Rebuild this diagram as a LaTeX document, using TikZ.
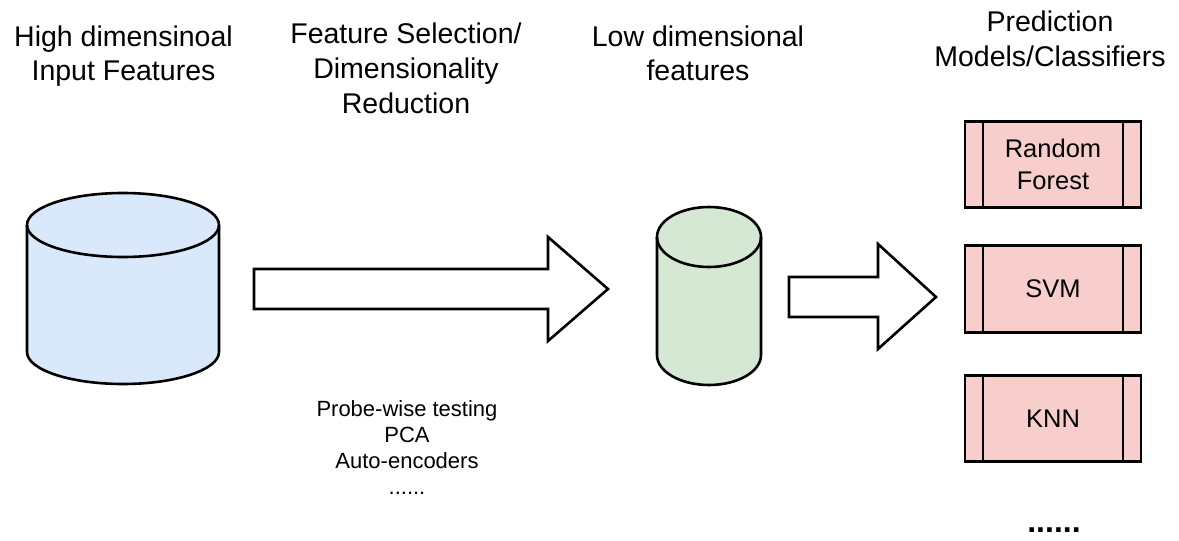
\documentclass[tikz,border=0pt]{standalone}
\usepackage{fontspec}
\setmainfont{Liberation Sans}
\definecolor{cylblue}{HTML}{DAE8FC}
\definecolor{cylgreen}{HTML}{D5E8D4}
\definecolor{boxred}{HTML}{F8CECC}
\tikzset{
  title/.style={align=center, inner sep=0pt, anchor=north, font=\fontsize{28.5}{34.8}\selectfont},
  outl/.style={line width=2.6pt, line join=miter},
  procbox/.style={draw, line width=2.6pt, fill=boxred, minimum width=176pt, minimum height=86.5pt,
                  inner sep=0pt, outer sep=0pt, align=center, font=\fontsize{25.5}{32}\selectfont},
  blockarrow/.style={draw, fill=white, line width=2.6pt, line join=miter},
}
\begin{document}
\begin{tikzpicture}[x=1pt,y=-1pt]
  \useasboundingbox (0,0) rectangle (1179,541);
  \fill[white] (0,0) rectangle (1179,541);

  % titles
  \node[title] (t1) at (123.5,25.2) {High dimensinoal\\Input Features};
  \node[title] (t2) at (406,22.7) {Feature Selection/\\Dimensionality\\Reduction};
  \node[title] (t3) at (698,25.2) {Low dimensional\\features};
  \node[title] (t4) at (1050,10.5) {Prediction\\Models/Classifiers};

  % big cylinder (high dimensional)
  \coordinate (hd) at (123,225);
  \path[fill=cylblue] (27,225) -- (27,352) arc[start angle=180,end angle=0,x radius=96,y radius=32]
        -- (219,225) arc[start angle=0,end angle=-180,x radius=96,y radius=32] -- cycle;
  \draw[outl] (27,225) -- (27,352) arc[start angle=180,end angle=0,x radius=96,y radius=32] -- (219,225);
  \draw[outl] (hd) ellipse [x radius=96, y radius=32];

  % big block arrow
  \draw[blockarrow] (254,269) -- (548,269) -- (548,237) -- (608,289) -- (548,341) -- (548,309) -- (254,309) -- cycle;

  % methods text
  \node[align=center, anchor=north, inner sep=0pt, font=\fontsize{22}{26}\selectfont] (methods) at (407,400)
    {Probe-wise testing\\PCA\\Auto-encoders\\......};

  % small cylinder (low dimensional)
  \coordinate (ld) at (709,237);
  \path[fill=cylgreen] (657,237) -- (657,355) arc[start angle=180,end angle=0,x radius=52,y radius=30]
        -- (761,237) arc[start angle=0,end angle=-180,x radius=52,y radius=30] -- cycle;
  \draw[outl] (657,237) -- (657,355) arc[start angle=180,end angle=0,x radius=52,y radius=30] -- (761,237);
  \draw[outl] (ld) ellipse [x radius=52, y radius=30];

  % small block arrow
  \draw[blockarrow] (789,277) -- (878,277) -- (878,244) -- (936,297) -- (878,349) -- (878,317) -- (789,317) -- cycle;

  % classifier boxes
  \node[procbox] (rf)  at (1053,164.5) {Random\\Forest};
  \node[procbox] (svm) at (1053,289)   {SVM};
  \node[procbox] (knn) at (1053,418.5) {KNN};
  \foreach \b in {rf,svm,knn}{
    \draw[line width=2.6pt] ([xshift=18pt]\b.north west) -- ([xshift=18pt]\b.south west);
    \draw[line width=2.6pt] ([xshift=-18pt]\b.north east) -- ([xshift=-18pt]\b.south east);
  }

  \node[anchor=base, inner sep=0pt, font=\bfseries\fontsize{32}{32}\selectfont] (more) at (1054,532) {......};
\end{tikzpicture}
\end{document}
